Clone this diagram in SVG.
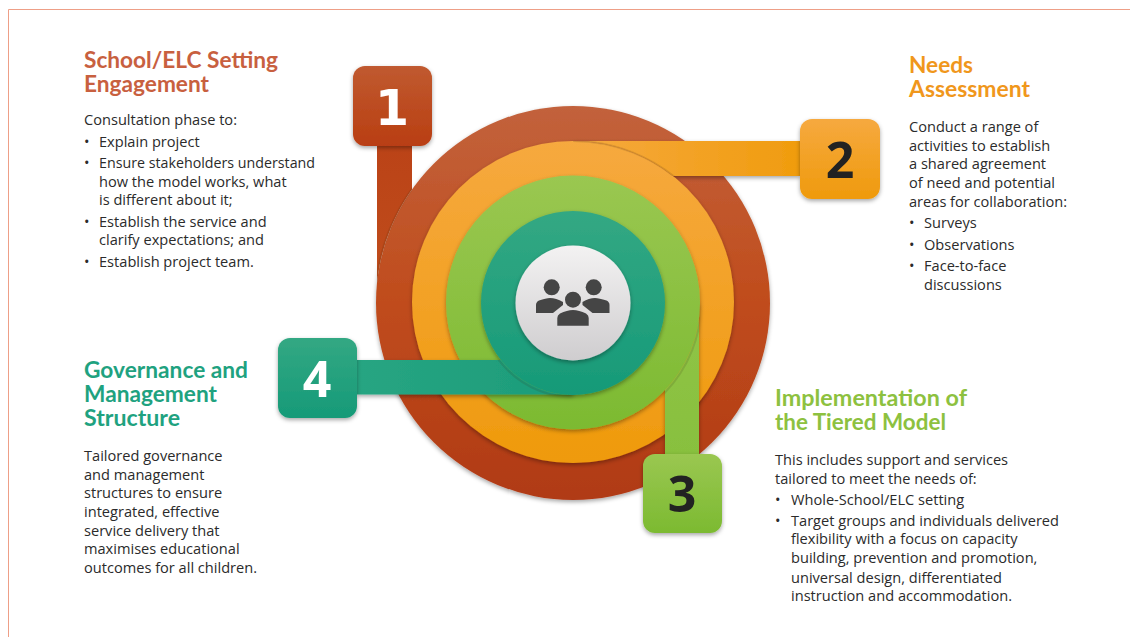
<svg xmlns="http://www.w3.org/2000/svg" width="1130" height="637" viewBox="0 0 1130 637">
<style>
text{font-family:"Open Sans","Noto Sans","Liberation Sans",sans-serif}
.b{font-size:14.6px;fill:#2b2b2b}
.h{font-family:Lato,"Open Sans",sans-serif;font-size:23px;font-weight:700}
.n{font-size:50px;font-weight:700;text-anchor:middle}
.box{filter:url(#sh)}
.ring{filter:url(#sh)}
.edge{fill:none;stroke:#3a2a10;stroke-opacity:.14;stroke-width:2}
.ppl{fill:#454545}
</style>
<defs>
<filter id="sh" x="-20%" y="-20%" width="140%" height="140%"><feDropShadow dx="0" dy="2" stdDeviation="2" flood-color="#000" flood-opacity=".35"/></filter>
<linearGradient id="gr" x1="0" y1="0" x2="0" y2="1"><stop offset="0" stop-color="#c2623c"/><stop offset=".5" stop-color="#c04c1c"/><stop offset="1" stop-color="#b03a16"/></linearGradient>
<linearGradient id="gb" x1="0" y1="0" x2="0" y2="1"><stop offset="0" stop-color="#c05a30"/><stop offset="1" stop-color="#b93e12"/></linearGradient>
<linearGradient id="go" x1="0" y1="0" x2="0" y2="1"><stop offset="0" stop-color="#f6a93f"/><stop offset="1" stop-color="#ef9a0c"/></linearGradient>
<linearGradient id="gg" x1="0" y1="0" x2="0" y2="1"><stop offset="0" stop-color="#9ac751"/><stop offset="1" stop-color="#7cba31"/></linearGradient>
<linearGradient id="gt" x1="0" y1="0" x2="0" y2="1"><stop offset="0" stop-color="#33a883"/><stop offset="1" stop-color="#169a78"/></linearGradient>
<linearGradient id="gw" x1="0" y1="0" x2="0" y2="1"><stop offset="0" stop-color="#f3f2f2"/><stop offset="1" stop-color="#cfcdcf"/></linearGradient>
<linearGradient id="c1" x1="0" y1="0" x2="0" y2="1"><stop offset="0" stop-color="#bb4317"/><stop offset="1" stop-color="#c04e1c"/></linearGradient>
<linearGradient id="c2" x1="0" y1="0" x2="1" y2="0"><stop offset="0" stop-color="#f6a93f"/><stop offset="1" stop-color="#f09c0e"/></linearGradient>
<linearGradient id="c3" x1="0" y1="0" x2="0" y2="1"><stop offset="0" stop-color="#90c447"/><stop offset="1" stop-color="#88c03e"/></linearGradient>
<linearGradient id="c4" x1="0" y1="0" x2="1" y2="0"><stop offset="0" stop-color="#27a582"/><stop offset="1" stop-color="#1c9c7a"/></linearGradient>
<clipPath id="notRed"><path clip-rule="evenodd" d="M0 0H1130V637H0ZM376 303a197 197 0 1 0 394 0a197 197 0 1 0 -394 0Z"/></clipPath>
<clipPath id="notOrange"><path clip-rule="evenodd" d="M0 0H1130V637H0ZM412 302a161 161 0 1 0 322 0a161 161 0 1 0 -322 0Z"/></clipPath>
<clipPath id="notGreen"><path clip-rule="evenodd" d="M0 0H1130V637H0ZM446 302.500a127 127 0 1 0 254 0a127 127 0 1 0 -254 0Z"/></clipPath>
<clipPath id="notTeal"><path clip-rule="evenodd" d="M0 0H1130V637H0ZM481 303a92 92 0 1 0 184 0a92 92 0 1 0 -184 0Z"/></clipPath>
<clipPath id="r1"><rect x="377" y="146" width="35" height="157"/></clipPath>
<clipPath id="r2"><rect x="573" y="141" width="227" height="35"/></clipPath>
<clipPath id="r3"><rect x="665" y="303" width="34" height="151"/></clipPath>
<clipPath id="r4"><rect x="357" y="360" width="216" height="35"/></clipPath>
</defs>
<rect width="1130" height="637" fill="#fff"/>
<path d="M8.500 637V9.500H1130" fill="none" stroke="#ee9f87" stroke-width="1"/>

<g id="ring-red"><circle class="ring" cx="573" cy="303" r="197" fill="url(#gr)"/></g>
<g id="ring-orange"><circle class="ring" cx="573" cy="302" r="161" fill="url(#go)"/></g>
<g id="ring-green"><circle class="ring" cx="573" cy="302.500" r="127" fill="url(#gg)"/></g>
<g id="ring-teal"><circle class="ring" cx="573" cy="303" r="92" fill="url(#gt)"/></g>

<g id="connectors">
<g clip-path="url(#notRed)"><rect x="377" y="146" width="35" height="157" fill="url(#c1)"/></g>
<g clip-path="url(#r1)"><circle class="edge" cx="573" cy="304" r="198"/></g>
<g clip-path="url(#notOrange)"><rect class="box" x="573" y="141" width="227" height="35" fill="url(#c2)"/></g>
<g clip-path="url(#r2)"><circle class="edge" cx="573" cy="303" r="162"/></g>
<g clip-path="url(#notGreen)"><rect class="box" x="665" y="303" width="34" height="151" fill="url(#c3)"/></g>
<g clip-path="url(#r3)"><circle class="edge" cx="573" cy="303.500" r="128"/></g>
<g clip-path="url(#notTeal)"><rect class="box" x="357" y="360" width="216" height="34.500" fill="url(#c4)"/></g>
<g clip-path="url(#r4)"><circle class="edge" cx="573" cy="304" r="93"/></g>
</g>

<g id="hub">
<circle class="ring" cx="573" cy="303" r="57.500" fill="url(#gw)"/>
<circle class="ppl" cx="551.700" cy="287.300" r="8"/>
<circle class="ppl" cx="593.700" cy="287.300" r="8"/>
<path class="ppl" d="M536 313V305Q536 302 539 300.500Q546 298 550 298Q556 298 563 302V305L553 313Z"/>
<path class="ppl" d="M609.500 313V305Q609.500 302 606.500 300.500Q599 298 595 298Q589 298 582.500 302V305L592.500 313Z"/>
<circle class="ppl" cx="573" cy="299.700" r="8"/>
<path class="ppl" d="M557.300 325.700V318Q557.300 315 560 313.500Q567 310 573 310Q579 310 586 313.500Q588.700 315 588.700 318V325.700Z"/>
</g>

<g id="node-1">
<rect class="box" x="353" y="66" width="79" height="80" rx="12" fill="url(#gb)"/>
<text class="n" x="392" y="125" fill="#fff" style="font-family:'DejaVu Sans',sans-serif;font-size:49px">1</text>
<text class="h" fill="#c8603f"><tspan x="84" y="67.500" textLength="194" lengthAdjust="spacingAndGlyphs">School/ELC Setting</tspan><tspan x="84" y="91.500" textLength="125" lengthAdjust="spacingAndGlyphs">Engagement</tspan></text>
<text class="b"><tspan x="84" y="125">Consultation phase to:</tspan><tspan x="84" y="147">•</tspan><tspan x="99" y="147">Explain project</tspan><tspan x="84" y="168">•</tspan><tspan x="99" y="168" textLength="216" lengthAdjust="spacingAndGlyphs">Ensure stakeholders understand</tspan><tspan x="99" y="187">how the model works, what</tspan><tspan x="99" y="205">is different about it;</tspan><tspan x="84" y="227">•</tspan><tspan x="99" y="227">Establish the service and</tspan><tspan x="99" y="245">clarify expectations; and</tspan><tspan x="84" y="267">•</tspan><tspan x="99" y="267">Establish project team.</tspan></text>
</g>

<g id="node-2">
<rect class="box" x="800" y="119" width="80" height="80" rx="12" fill="url(#go)"/>
<text class="n" x="840" y="178" fill="#222">2</text>
<text class="h" fill="#f0971c"><tspan x="909" y="73" textLength="64" lengthAdjust="spacingAndGlyphs">Needs</tspan><tspan x="909" y="97" textLength="121" lengthAdjust="spacingAndGlyphs">Assessment</tspan></text>
<text class="b"><tspan x="909" y="132">Conduct a range of</tspan><tspan x="909" y="151">activities to establish</tspan><tspan x="909" y="169">a shared agreement</tspan><tspan x="909" y="188">of need and potential</tspan><tspan x="909" y="207">areas for collaboration:</tspan><tspan x="909" y="228">•</tspan><tspan x="924" y="228">Surveys</tspan><tspan x="909" y="250">•</tspan><tspan x="924" y="250">Observations</tspan><tspan x="909" y="271">•</tspan><tspan x="924" y="271">Face-to-face</tspan><tspan x="924" y="290">discussions</tspan></text>
</g>

<g id="node-3">
<rect class="box" x="643" y="454" width="79" height="79" rx="12" fill="url(#gg)"/>
<text class="n" x="682" y="512" fill="#222">3</text>
<text class="h" fill="#8dc13f"><tspan x="775" y="406" textLength="192" lengthAdjust="spacingAndGlyphs">Implementation of</tspan><tspan x="775" y="430" textLength="171" lengthAdjust="spacingAndGlyphs">the Tiered Model</tspan></text>
<text class="b"><tspan x="775" y="465">This includes support and services</tspan><tspan x="775" y="484">tailored to meet the needs of:</tspan><tspan x="775" y="505">•</tspan><tspan x="791" y="505">Whole-School/ELC setting</tspan><tspan x="775" y="526">•</tspan><tspan x="791" y="526">Target groups and individuals delivered</tspan><tspan x="791" y="544">flexibility with a focus on capacity</tspan><tspan x="791" y="563">building, prevention and promotion,</tspan><tspan x="791" y="583">universal design, differentiated</tspan><tspan x="791" y="601">instruction and accommodation.</tspan></text>
</g>

<g id="node-4">
<rect class="box" x="278" y="338" width="79" height="80" rx="12" fill="url(#gt)"/>
<text class="n" x="317" y="397" fill="#fff">4</text>
<text class="h" fill="#1fa280"><tspan x="84" y="378" textLength="164" lengthAdjust="spacingAndGlyphs">Governance and</tspan><tspan x="84" y="402" textLength="133" lengthAdjust="spacingAndGlyphs">Management</tspan><tspan x="84" y="426" textLength="96" lengthAdjust="spacingAndGlyphs">Structure</tspan></text>
<text class="b"><tspan x="84" y="461">Tailored governance</tspan><tspan x="84" y="480">and management</tspan><tspan x="84" y="498">structures to ensure</tspan><tspan x="84" y="517">integrated, effective</tspan><tspan x="84" y="536">service delivery that</tspan><tspan x="84" y="554">maximises educational</tspan><tspan x="84" y="573">outcomes for all children.</tspan></text>
</g>
</svg>
